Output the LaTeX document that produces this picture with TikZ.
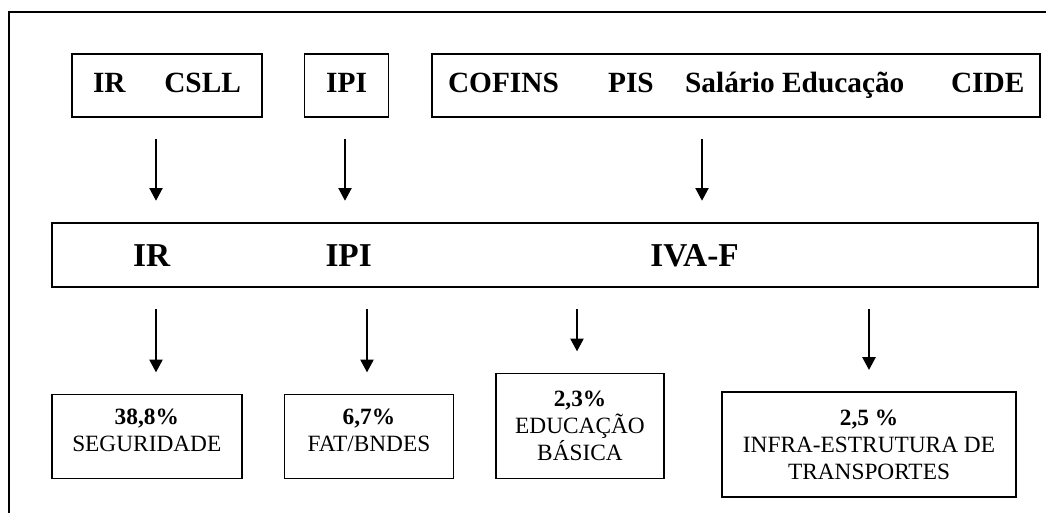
\documentclass[tikz,border=0pt]{standalone}
\usepackage{fontspec}
\setmainfont{Liberation Serif}
\usetikzlibrary{arrows.meta,positioning}

\begin{document}
\begin{tikzpicture}[x=0.75pt,y=-0.75pt,node distance=30.75pt,
 >={Triangle[length=9.5pt,width=10pt]},
 box/.style={draw,line width=1.2pt,inner sep=0pt,align=center},
 topbox/.style={box,minimum height=47.25pt,text height=10pt,text depth=0pt,
 font=\fontsize{22}{26}\selectfont\bfseries},
 midbox/.style={box,minimum height=48pt,text width=739.5pt,align=left,
 text height=17pt,text depth=0pt,font=\fontsize{25}{30}\selectfont\bfseries},
 sharebox/.style={box,font=\fontsize{17.5}{20.25}\selectfont},
 arr/.style={->,line width=0.8pt,shorten <=16pt,shorten >=16pt}]
\clip (0,0) rectangle (1046,512);
\draw[line width=1.1pt] (9,530) |- (1060,12);
% tributos atuais
\node[topbox,minimum width=142.5pt] (ir) at (167,85.5) {IR\hspace{29pt}CSLL};
\node[topbox,minimum width=63pt,right=of ir] (ipi) {IPI};
\node[topbox,minimum width=456pt,right=31.5pt of ipi] (contrib)
 {COFINS\hspace{37pt}PIS\hspace{23.5pt}Salário Educação\hspace{35pt}CIDE};
% tributos novos
\node[midbox,anchor=north west] (novo) at (51,222)
 {\hspace*{61pt}IR\hspace{116.5pt}IPI\hspace{209pt}IVA-F};
% destinacoes
\node[sharebox,minimum width=142.5pt,minimum height=63pt,text depth=9pt,
 below right=79.5pt and 0pt of novo.south west] (seg) {\textbf{38,8\%}\\SEGURIDADE};
\node[sharebox,minimum width=126.75pt,minimum height=63pt,text depth=9pt,
 right=of seg] (fat) {\textbf{6,7\%}\\FAT/BNDES};
\node[sharebox,minimum width=126pt,minimum height=78.75pt,
 right=of fat.south east,anchor=south west] (edu) {\textbf{2,3\%}\\EDUCAÇÃO\\BÁSICA};
\node[sharebox,minimum width=220.5pt,minimum height=78.75pt] (transp) at (869,444.5)
 {\textbf{2,5 \%}\\INFRA-ESTRUTURA DE\\TRANSPORTES};
\foreach \a/\b/\x in {ir/novo/156,ipi/novo/345,contrib/novo/702,
 novo/seg/156,novo/fat/367,novo/edu/577,novo/transp/869}
 \draw[arr] (\a.south -| \x,0) -- (\b.north -| \x,0);
\end{tikzpicture}
\end{document}
